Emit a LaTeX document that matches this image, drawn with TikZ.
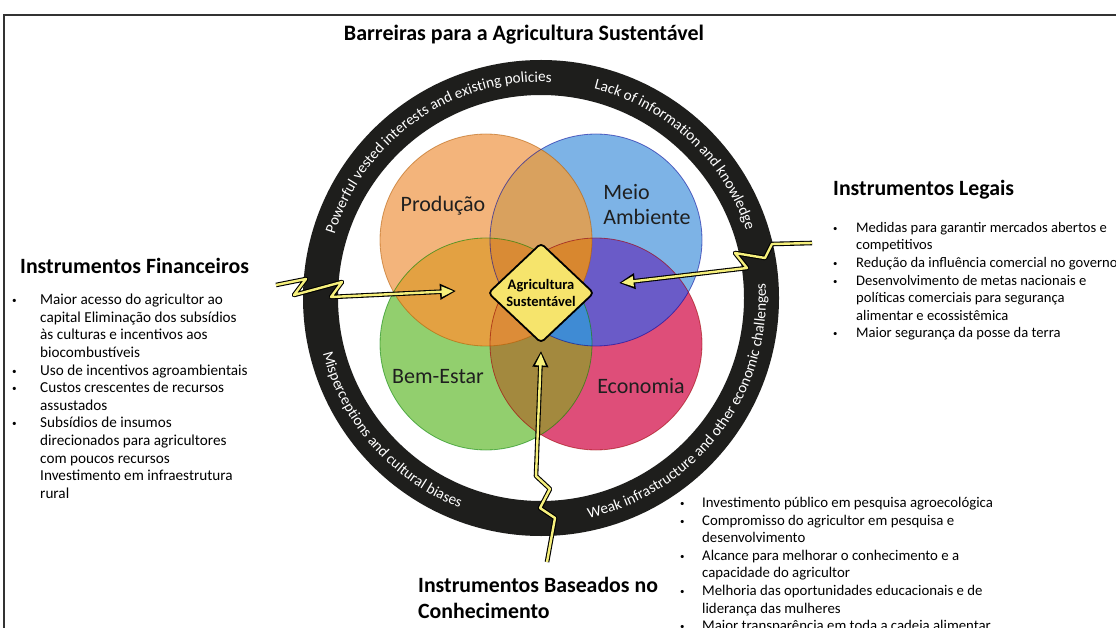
\documentclass[tikz,border=0pt]{standalone}
\usepackage{fontspec}
\setmainfont{Carlito}
\usetikzlibrary{arrows.meta,decorations.text,shapes.geometric}
\definecolor{ringblack}{HTML}{1E1E1C}
\definecolor{orangeC}{HTML}{F3B47B}
\definecolor{blueC}{HTML}{7DB3E6}
\definecolor{greenC}{HTML}{92CF6E}
\definecolor{redC}{HTML}{DE4E79}
\definecolor{obC}{HTML}{D9A15E}
\definecolor{ogC}{HTML}{E3A142}
\definecolor{brC}{HTML}{6A5BC8}
\definecolor{grC}{HTML}{A3893E}
\definecolor{obgC}{HTML}{D98B35}
\definecolor{ogrC}{HTML}{DC8C38}
\definecolor{bgrC}{HTML}{3F8BD4}
\definecolor{obrC}{HTML}{D8872F}
\definecolor{diaY}{HTML}{F6E46C}
\definecolor{boltY}{HTML}{F6F07C}
\newcommand\bl[1][28pt]{\makebox[#1][l]{\raisebox{1pt}{\scalebox{0.6}{\textbullet}}}}
\newcommand\nb[1][28pt]{\hspace*{#1}}
\newcommand\ringfont{\fontsize{15.2}{16}\selectfont}
\begin{document}
\begin{tikzpicture}[x=1pt,y=-1pt,
  every node/.style={inner sep=0pt},
  lbl/.style={font=\fontsize{22}{25}\selectfont, text=black!88},
  head/.style={font=\bfseries\fontsize{21.8}{26}\selectfont, anchor=west, align=left},
  lst/.style={font=\fontsize{#1}{17.6}\selectfont, align=left, anchor=north west},
  lst/.default=14.6,
  boltout/.style={draw=black, line width=4.6pt, line join=round, -{Triangle[length=16pt,width=15pt]}},
  boltin/.style={draw=boltY, line width=2.4pt, line join=round, -{Triangle[length=12pt,width=10pt]}, shorten >=2.4pt},
  ringtxt/.style={decorate, decoration={text along path, text align=center, text color=white, text={|\ringfont|#1}}},
  vennedge/.style={line width=0.8pt, draw opacity=0.55}
]
\useasboundingbox (0,0) rectangle (1116,628);
\fill[white] (0,0) rectangle (1116,628);
% frame
\draw[line width=1.6pt, black!80] (4,660) -- (4,15) -- (1140,15);

% ring
\coordinate (c) at (541,298);
\fill[ringblack, even odd rule] (c) circle[radius=238] (c) circle[radius=203];

% Venn circles
\coordinate (oc) at (486,240);
\coordinate (bc) at (596,240);
\coordinate (gc) at (486,344);
\coordinate (rc) at (596,344);
\def\R{106}
\fill[orangeC] (oc) circle[radius=\R];
\fill[blueC] (bc) circle[radius=\R];
\fill[greenC] (gc) circle[radius=\R];
\fill[redC] (rc) circle[radius=\R];
\begin{scope}\clip (oc) circle[radius=\R]; \fill[obC] (bc) circle[radius=\R]; \end{scope}
\begin{scope}\clip (oc) circle[radius=\R]; \fill[ogC] (gc) circle[radius=\R]; \end{scope}
\begin{scope}\clip (bc) circle[radius=\R]; \fill[brC] (rc) circle[radius=\R]; \end{scope}
\begin{scope}\clip (gc) circle[radius=\R]; \fill[grC] (rc) circle[radius=\R]; \end{scope}
\begin{scope}\clip (oc) circle[radius=\R]; \clip (bc) circle[radius=\R]; \fill[obgC] (gc) circle[radius=\R]; \end{scope}
\begin{scope}\clip (oc) circle[radius=\R]; \clip (gc) circle[radius=\R]; \fill[ogrC] (rc) circle[radius=\R]; \end{scope}
\begin{scope}\clip (bc) circle[radius=\R]; \clip (gc) circle[radius=\R]; \fill[bgrC] (rc) circle[radius=\R]; \end{scope}
\begin{scope}\clip (oc) circle[radius=\R]; \clip (bc) circle[radius=\R]; \fill[obrC] (rc) circle[radius=\R]; \end{scope}
\draw[vennedge, draw=orange!70!black] (oc) circle[radius=\R];
\draw[vennedge, draw=blue!60!black] (bc) circle[radius=\R];
\draw[vennedge, draw=green!50!black] (gc) circle[radius=\R];
\draw[vennedge, draw=red!60!black] (rc) circle[radius=\R];

% ring texts
\path[ringtxt={Powerful vested interests and existing policies}] (c) ++(-178:216) arc[start angle=-178, end angle=-72, radius=216];
\path[ringtxt={Lack of information and knowledge}] (c) ++(-96:216) arc[start angle=-96, end angle=2, radius=216];
\path[ringtxt={Weak infrastructure and other economic challenges}] (c) ++(96:225) arc[start angle=96, end angle=-22, radius=225];
\path[ringtxt={Misperceptions and cultural biases}] (c) ++(-172:225) arc[start angle=-172, end angle=-271, radius=225];

% Venn labels
\node[lbl] (prod) at (443,206) {Produção};
\node[lbl, align=left] (meio) at (647,205) {Meio\\Ambiente};
\node[lbl] (bem) at (438,377) {Bem-Estar};
\node[lbl] (eco) at (641,386) {Economia};

% title
\node[font=\bfseries\fontsize{22}{24}\selectfont] (title) at (524,35) {Barreiras para a Agricultura Sustentável};

% lightning connectors
\coordinate (finS) at (276,285);
\coordinate (finE) at (456,291);
\coordinate (legS) at (812,243);
\coordinate (legE) at (619,283);
\coordinate (knoS) at (547,562);
\coordinate (knoE) at (541,351);
\draw[boltout] (finS) -- (306,279) -- (294,295) -- (342,282) -- (331,297) -- (finE);
\draw[boltin] (finS) -- (306,279) -- (294,295) -- (342,282) -- (331,297) -- (finE);
\draw[boltout] (legS) -- (772,244) -- (765,258) -- (735,253) -- (747,268) -- (legE);
\draw[boltin] (legS) -- (772,244) -- (765,258) -- (735,253) -- (747,268) -- (legE);
\draw[boltout] (knoS) -- (555,518) -- (540,508) -- (550,489) -- (536,476) -- (knoE);
\draw[boltin] (knoS) -- (555,518) -- (540,508) -- (550,489) -- (536,476) -- (knoE);

% central diamond
\node[diamond, draw=black, line width=1.8pt, fill=diaY, minimum width=106pt, minimum height=100pt, rounded corners=4pt, align=center, font=\bfseries\fontsize{14.5}{16.5}\selectfont] (dia) at (541,293) {Agricultura\\Sustentável};

% headings
\node[head] (hfin) at (20,266) {Instrumentos Financeiros};
\node[head] (hleg) at (833,190) {Instrumentos Legais};
\node[head] (hkno) at (418,598) {Instrumentos Baseados no\\Conhecimento};

% lists
\node[lst=15.2] (lfin) at (12,294) {\bl Maior acesso do agricultor ao\\
\nb capital Eliminação dos subsídios\\
\nb às culturas e incentivos aos\\
\nb biocombustíveis\\
\bl Uso de incentivos agroambientais\\
\bl Custos crescentes de recursos\\
\nb assustados\\
\bl Subsídios de insumos\\
\nb direcionados para agricultores\\
\nb com poucos recursos\\
\nb Investimento em infraestrutura\\
\nb rural};

\node[lst=14.6] (lleg) at (833,222) {\bl[23pt]Medidas para garantir mercados abertos e\\
\nb[23pt]competitivos\\
\bl[23pt]Redução da influência comercial no governo\\
\bl[23pt]Desenvolvimento de metas nacionais e\\
\nb[23pt]políticas comerciais para segurança\\
\nb[23pt]alimentar e ecossistêmica\\
\bl[23pt]Maior segurança da posse da terra};

\node[lst=14.8] (lkno) at (680,497) {\bl[22pt]Investimento público em pesquisa agroecológica\\
\bl[22pt]Compromisso do agricultor em pesquisa e\\
\nb[22pt]desenvolvimento\\
\bl[22pt]Alcance para melhorar o conhecimento e a\\
\nb[22pt]capacidade do agricultor\\
\bl[22pt]Melhoria das oportunidades educacionais e de\\
\nb[22pt]liderança das mulheres\\
\bl[22pt]Maior transparência em toda a cadeia alimentar};
\end{tikzpicture}
\end{document}
